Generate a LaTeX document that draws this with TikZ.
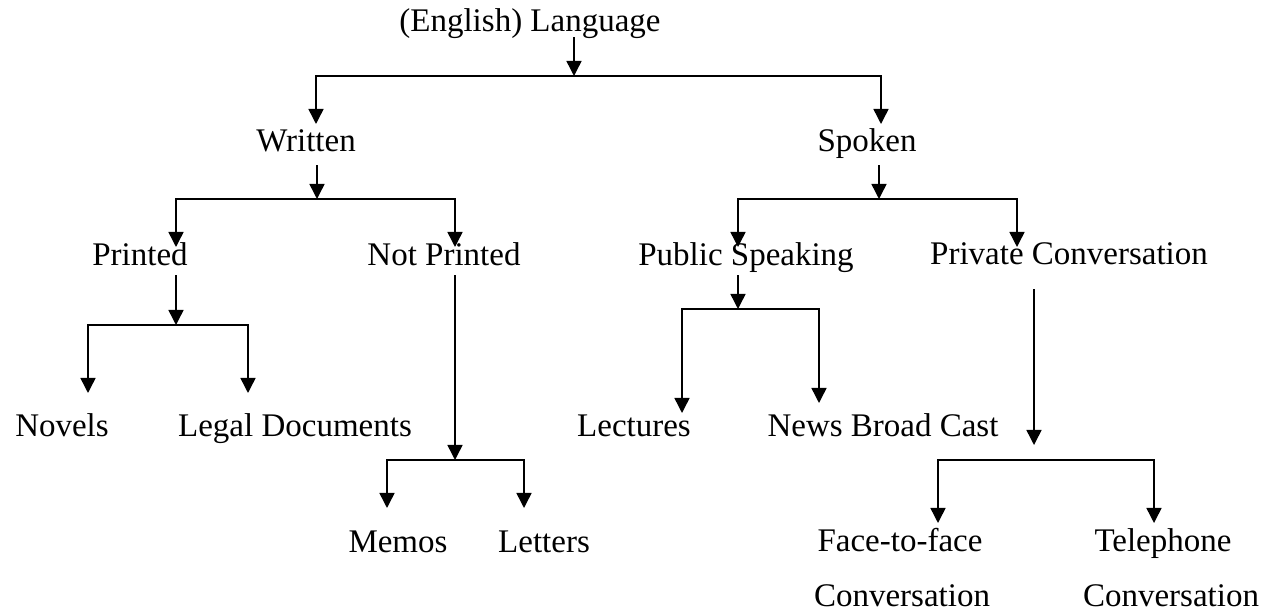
\documentclass[tikz,border=0pt]{standalone}
\usepackage{fontspec}
\setmainfont{Liberation Serif}
\usetikzlibrary{arrows.meta}

\begin{document}
\begin{tikzpicture}[x=0.5pt, y=-0.5pt, >={Triangle[width=7.5pt,length=7.5pt]}, line width=0.75pt,
  lab/.style={font=\fontsize{16.5}{19}\selectfont, inner sep=0pt, anchor=base, text depth=0.22em}]
\useasboundingbox (0,0) rectangle (1263,613);
% 各层文字
\node[lab] (lang) at (530,32) {(English) Language};
\node[lab] (written) at (306,152) {Written};
\node[lab] (spoken) at (867,152) {Spoken};
\node[lab] (printed) at (140,266) {Printed};
\node[lab] (notpr) at (444,266) {Not Printed};
\node[lab] (public) at (746,266) {Public Speaking};
\node[lab] (private) at (1069,265) {Private Conversation};
\node[lab] (novels) at (62,437) {Novels};
\node[lab] (legal) at (295,437) {Legal Documents};
\node[lab] (lect) at (634,437) {Lectures};
\node[lab] (news) at (883,437) {News Broad Cast};
\node[lab] (memos) at (398,553) {Memos};
\node[lab] (letters) at (544,553) {Letters};
\node[lab] (face) at (900,552) {Face-to-face};
\node[lab] (tel) at (1163,552) {Telephone};
\node[lab] (face2) at (902,607) {Conversation};
\node[lab] (tel2) at (1171,607) {Conversation};
% 分叉点与箭头端点
\coordinate (j-lang) at (574,76);
\coordinate (t-written) at (316,124);
\coordinate (t-spoken) at (881,124);
\coordinate (j-wr) at (317,199);
\coordinate (t-printed) at (176,247);
\coordinate (t-notpr) at (455,247);
\coordinate (j-sp) at (879,199);
\coordinate (t-public) at (738,247);
\coordinate (t-private) at (1017,247);
\coordinate (j-pr) at (176,325);
\coordinate (t-novels) at (88,393);
\coordinate (t-legal) at (248,393);
\coordinate (j-np) at (455,460);
\coordinate (t-memos) at (387,508);
\coordinate (t-letters) at (524,508);
\coordinate (j-pub) at (738,309);
\coordinate (t-lect) at (682,413);
\coordinate (t-news) at (819,403);
\coordinate (j-priv) at (1034,460);
\coordinate (t-face) at (938,523);
\coordinate (t-tel) at (1154,523);
% Language
\draw[->] (lang.south -| j-lang) -- (j-lang);
\draw[->] (j-lang) -| (t-written);
\draw[->] (j-lang) -| (t-spoken);
% Written
\draw[->, shorten <=4pt] (written.south -| j-wr) -- (j-wr);
\draw[->] (j-wr) -| (t-printed);
\draw[->] (j-wr) -| (t-notpr);
% Spoken
\draw[->, shorten <=4pt] (spoken.south -| j-sp) -- (j-sp);
\draw[->] (j-sp) -| (t-public);
\draw[->] (j-sp) -| (t-private);
% Printed
\draw[->, shorten <=2pt] (printed.south -| j-pr) -- (j-pr);
\draw[->] (j-pr) -| (t-novels);
\draw[->] (j-pr) -| (t-legal);
% Not Printed
\draw[->, shorten <=2pt] (notpr.south -| j-np) -- (j-np);
\draw[->] (j-np) -| (t-memos);
\draw[->] (j-np) -| (t-letters);
% Public Speaking
\draw[->, shorten <=2pt] (public.south -| j-pub) -- (j-pub);
\draw[->] (j-pub) -| (t-lect);
\draw[->] (j-pub) -| (t-news);
% Private Conversation
\draw[->, shorten <=9.5pt, shorten >=7.5pt] (private.south -| j-priv) -- (j-priv);
\draw[->] (j-priv) -| (t-face);
\draw[->] (j-priv) -| (t-tel);
\end{tikzpicture}
\end{document}
